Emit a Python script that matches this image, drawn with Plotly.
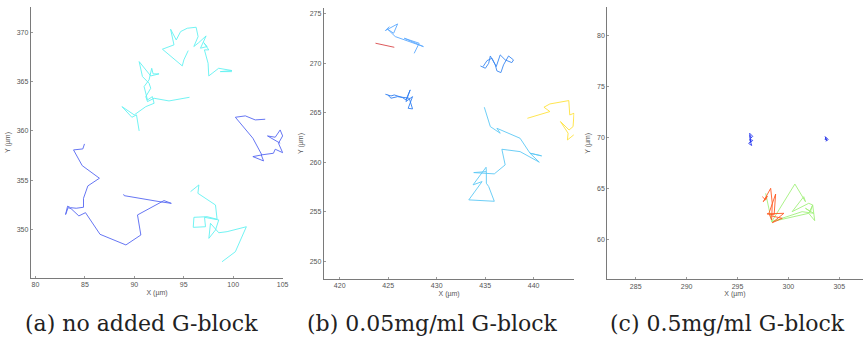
import plotly.graph_objects as go

# ---------------- data (µm) ----------------
# Panel (a): no added G-block
a1_x = [84.96, 84.79, 83.85, 84.73, 86.47, 85.30, 84.86, 84.86, 84.12, 83.55, 83.25, 83.05, 83.30, 83.60, 84.39, 85.06, 86.53, 89.15, 90.66, 90.32, 93.00, 93.74, 92.60, 88.98, 88.91]
a1_y = [358.68, 358.17, 358.07, 356.47, 355.19, 354.41, 353.15, 352.24, 352.14, 352.20, 352.35, 351.50, 352.20, 352.10, 351.36, 351.69, 349.49, 348.41, 349.42, 351.46, 352.92, 352.64, 352.80, 353.42, 353.56]
a2_x = [103.24, 102.23, 101.23, 100.22, 101.99, 102.90, 101.99, 103.07, 102.84, 104.07, 104.25, 105.00, 104.58, 105.00, 104.75, 104.25, 103.47, 104.75]
a2_y = [361.19, 361.12, 361.53, 361.39, 359.26, 357.56, 357.39, 356.95, 357.56, 357.73, 358.14, 357.79, 358.75, 359.49, 360.10, 359.36, 359.49, 358.75]
a3_x = [95.69, 96.53, 96.43, 98.21, 98.37, 97.36, 96.03, 95.96, 97.20, 97.10, 98.54, 98.21, 97.54, 97.70, 98.54, 99.38, 101.33, 100.22, 98.87]
a3_y = [353.83, 354.51, 353.66, 352.47, 351.02, 351.28, 351.22, 350.20, 350.26, 351.22, 350.95, 349.93, 349.08, 350.61, 349.65, 349.76, 350.26, 347.72, 346.70]
a4_x = [90.49, 90.22, 89.75, 88.75, 89.99, 91.16, 92.00, 91.83, 91.33, 90.99, 91.49, 91.76, 91.90, 92.50, 91.66, 91.33, 90.49, 90.82, 91.49, 91.66, 91.16, 91.33, 92.00, 93.51, 95.58]
a4_y = [360.00, 361.63, 361.39, 362.47, 361.63, 362.47, 362.81, 363.49, 363.15, 364.51, 365.19, 366.37, 365.80, 365.80, 365.59, 366.03, 367.05, 365.53, 364.85, 364.34, 363.49, 362.98, 363.32, 363.05, 363.42]
a5_x = [95.45, 95.01, 94.85, 92.84, 94.01, 93.67, 94.24, 94.68, 95.35, 96.25, 96.45, 96.02, 96.52, 97.26, 96.69, 97.36, 97.02, 97.53, 97.09, 97.46, 97.53, 98.53, 99.87, 98.70, 99.87]
a5_y = [368.17, 367.22, 366.61, 368.31, 368.75, 370.34, 369.25, 370.10, 370.44, 370.54, 369.59, 368.58, 368.98, 369.66, 368.41, 368.58, 368.98, 368.24, 368.24, 366.88, 365.59, 366.37, 366.14, 366.03, 366.03]

# Panel (b): 0.05 mg/ml G-block
b0_x = [423.69, 424.60, 425.63]
b0_y = [272.04, 271.85, 271.63]
b1_x = [425.12, 424.71, 425.97, 425.56, 424.95, 425.73, 428.63, 426.66, 428.19, 427.68]
b1_y = [273.72, 273.32, 273.99, 273.05, 273.45, 272.71, 271.70, 272.54, 272.04, 271.02]
b2_x = [424.71, 425.29, 425.63, 426.48, 426.83, 427.27, 426.83, 427.51, 427.06, 427.51, 427.17, 425.97, 425.29, 424.95]
b2_y = [266.88, 266.71, 266.81, 266.54, 266.31, 267.32, 266.14, 266.64, 265.46, 265.40, 266.48, 266.64, 266.48, 266.81]
b3_x = [434.51, 435.02, 435.36, 435.53, 436.04, 436.21, 436.62, 436.89, 437.41, 437.92, 437.75, 437.07, 436.55, 436.14, 435.70, 435.19, 434.78]
b3_y = [269.74, 269.51, 270.01, 270.75, 269.85, 269.24, 269.07, 269.85, 270.75, 270.35, 270.08, 270.35, 270.86, 269.68, 270.52, 270.28, 269.68]
b4_x = [434.91, 435.53, 436.55, 436.21, 438.60, 439.62, 440.82, 439.62, 440.58, 438.60, 436.72, 437.06, 435.94, 433.82, 435.12, 435.09, 433.75, 434.68, 433.31, 435.94, 435.36, 435.12, 435.12]
b4_y = [265.57, 263.61, 262.94, 263.44, 262.43, 260.92, 260.65, 260.92, 260.01, 261.08, 261.32, 259.74, 258.83, 258.96, 259.06, 259.50, 257.72, 258.05, 256.20, 256.06, 257.55, 257.88, 259.06]
b5_x = [439.35, 441.67, 441.06, 441.67, 443.62, 443.72, 444.16, 444.06, 443.65, 442.76, 443.55, 443.48, 444.13]
b5_y = [264.45, 265.13, 265.57, 265.90, 266.24, 264.79, 264.96, 263.61, 263.27, 264.12, 262.94, 262.26, 262.77]

# Panel (c): 0.5 mg/ml G-block
c1_x = [296.3, 296.5, 296.2, 296.3, 296.1, 296.4, 296.2, 296.5, 296.3, 296.2, 296.4]
c1_y = [69.9, 70.1, 70.4, 69.6, 69.4, 69.2, 69.8, 69.7, 69.5, 70.2, 70.0]
c2_x = [303.6, 303.7, 303.8, 303.6, 303.7, 303.9, 303.7]
c2_y = [70.1, 69.9, 69.7, 69.8, 70.0, 69.8, 69.6]
c3_x = [297.44, 297.77, 297.93, 297.54, 298.26, 298.42, 298.36, 298.09, 298.75, 298.60, 297.90, 299.56, 298.42, 299.40, 298.30]
c3_y = [64.18, 63.86, 64.25, 63.69, 65.00, 63.53, 61.90, 62.55, 64.44, 62.40, 62.50, 62.55, 61.63, 62.06, 62.30]
c4_x = [297.77, 298.36, 300.64, 301.68, 301.51, 300.37, 302.00, 302.39, 302.17, 301.68, 302.49, 301.35, 298.36, 302.00, 302.39, 302.59, 302.00]
c4_y = [64.51, 61.73, 65.42, 63.69, 64.18, 62.71, 63.53, 63.37, 62.71, 63.04, 62.55, 62.71, 61.73, 62.55, 63.37, 61.83, 62.55]

captions = ["(a) no added G-block", "(b) 0.05mg/ml G-block", "(c) 0.5mg/ml G-block"]

panels = [
    [(a1_x, a1_y, "#5567f2"), (a2_x, a2_y, "#5567f2"), (a3_x, a3_y, "#62f2f2"),
     (a4_x, a4_y, "#62f2f2"), (a5_x, a5_y, "#62f2f2")],
    [(b0_x, b0_y, "#d9474a"), (b1_x, b1_y, "#5aa8ff"), (b2_x, b2_y, "#2f7ef2"),
     (b3_x, b3_y, "#3a88f2"), (b4_x, b4_y, "#5cc8f5"), (b5_x, b5_y, "#ffe23c")],
    [(c1_x, c1_y, "#2a3cf0"), (c2_x, c2_y, "#1f2ee8"), (c4_x, c4_y, "#a2f07c"),
     (c3_x, c3_y, "#ff5a22")],
]

x_ranges = [[79.53, 105.07], [418.36, 444.2], [282.2, 307.3]]
y_ranges = [[345.05, 372.6], [248.2, 275.6], [56.08, 82.75]]
x_ticks = [[80, 85, 90, 95, 100, 105], [420, 425, 430, 435, 440], [285, 290, 295, 300, 305]]
y_ticks = [[350, 355, 360, 365, 370], [250, 255, 260, 265, 270, 275], [60, 65, 70, 75, 80]]
x_domains = [[0.0357, 0.3283], [0.3752, 0.6656], [0.7036, 0.9996]]
y_domains = [[0.2125, 0.9802], [0.2096, 0.9773], [0.2088, 0.9793]]
caption_x = [142, 435, 732]

fig = go.Figure()
for i, tracks in enumerate(panels):
    sfx = "" if i == 0 else str(i + 1)
    for tx, ty, col in tracks:
        fig.add_trace(go.Scatter(x=tx, y=ty, mode="lines", line=dict(color=col, width=0.9),
                                 xaxis="x" + sfx, yaxis="y" + sfx, showlegend=False,
                                 hoverinfo="skip"))
    axis_common = dict(showgrid=False, zeroline=False, showline=True, linecolor="#7a7a7a",
                       linewidth=1, ticks="inside", ticklen=2, tickcolor="#9a9a9a",
                       tickfont=dict(family="Liberation Sans", size=7, color="#555"),
                       title_font=dict(family="Liberation Sans", size=7, color="#555"))
    fig.update_layout(**{
        "xaxis" + sfx: dict(axis_common, domain=x_domains[i], range=x_ranges[i],
                            tickvals=x_ticks[i], anchor="y" + sfx,
                            title=dict(text="X (µm)", standoff=2)),
        "yaxis" + sfx: dict(axis_common, domain=y_domains[i], range=y_ranges[i],
                            tickvals=y_ticks[i], anchor="x" + sfx,
                            title=dict(text="Y (µm)", standoff=5)),
    })
    fig.add_annotation(text=captions[i], x=caption_x[i] / 868, y=1 - 323 / 353,
                       xref="paper", yref="paper", showarrow=False,
                       font=dict(family="DejaVu Serif", size=22, color="#222"),
                       xanchor="center", yanchor="middle")

fig.update_layout(width=868, height=353, margin=dict(l=0, r=0, t=0, b=0),
                  paper_bgcolor="white", plot_bgcolor="white", showlegend=False)
fig.write_html("out.html")
